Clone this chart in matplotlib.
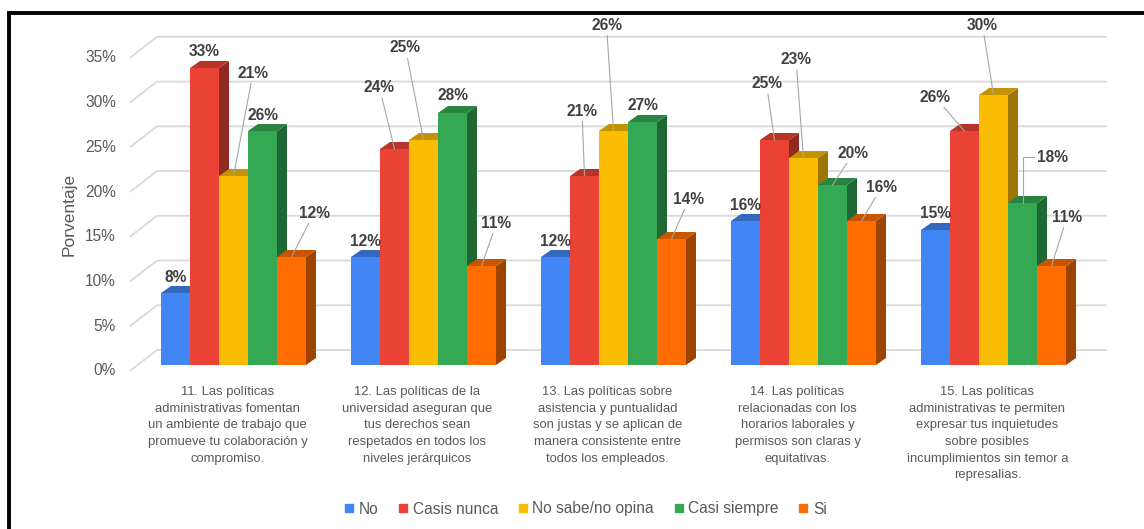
import matplotlib
matplotlib.use("Agg")
import matplotlib.pyplot as plt
from matplotlib.patches import Polygon
from matplotlib.lines import Line2D
import matplotlib.colors as mcolors

plt.rcParams['font.family'] = ['Liberation Sans', 'DejaVu Sans']

# --- data ---
categories = [
    "11. Las políticas\nadministrativas fomentan\nun ambiente de trabajo que\npromueve tu colaboración y\ncompromiso.",
    "12. Las políticas de la\nuniversidad aseguran que\ntus derechos sean\nrespetados en todos los\nniveles jerárquicos",
    "13. Las políticas sobre\nasistencia y puntualidad\nson justas y se aplican de\nmanera consistente entre\ntodos los empleados.",
    "14. Las políticas\nrelacionadas con los\nhorarios laborales y\npermisos son claras y\nequitativas.",
    "15. Las políticas\nadministrativas te permiten\nexpresar tus inquietudes\nsobre posibles\nincumplimientos sin temor a\nrepresalias.",
]
series_names = ["No", "Casis nunca", "No sabe/no opina", "Casi siempre", "Si"]
no = [8, 12, 12, 16, 15]
casis_nunca = [33, 24, 21, 25, 26]
no_sabe = [21, 25, 26, 23, 30]
casi_siempre = [26, 28, 27, 20, 18]
si = [12, 11, 14, 16, 11]
yticks = [0, 5, 10, 15, 20, 25, 30, 35]

series = [no, casis_nunca, no_sabe, casi_siempre, si]
colors = ["#4285F4", "#EA4335", "#FBBC04", "#34A853", "#FF6D01"]

# label offsets in pixels (dx, dy up) from the top of each bar, and leader style
label_offsets = [
    [(0, 16), (0, 16), (19.5, 103), (0, 16), (22.5, 44)],
    [(0, 16), (-15, 61), (-18, 92), (0, 17), (15, 43)],
    [(0, 16), (-2.5, 65), (-7, 106), (0, 16), (17.5, 40)],
    [(0, 16), (-8, 56), (-7.5, 98), (21, 32), (20, 34)],
    [(0, 16), (-29.5, 34), (-11, 70), (29.5, 46), (15.5, 49)],
]
leaders = [
    [None, None, 'line', None, 'line'],
    [None, 'line', 'line', None, 'line'],
    [None, 'line', 'line', None, 'line'],
    [None, 'line', 'line', 'line', 'line'],
    [None, 'line', 'line', 'elbow', 'line'],
]

W, H = 1144, 529
fig = plt.figure(figsize=(W / 100, H / 100), dpi=100)
ax = fig.add_axes([0, 0, 1, 1])
ax.set_axis_off()

# axis units: x in groups (190 px apart), y in percent (9 px per %)
px_per_x = 190.0
px_per_y = 9.0
x0_px = 233.5
base_px = 365.0
ax.set_xlim(-x0_px / px_per_x, (W - x0_px) / px_per_x)
ax.set_ylim(-(H - base_px) / px_per_y, base_px / px_per_y)

def px_x(p):
    return (p - x0_px) / px_per_x

def px_y(p):
    return (base_px - p) / px_per_y

bar_w = 29 / px_per_x
depth_x = 10 / px_per_x
depth_y = 7 / px_per_y

# back wall gridlines with the slanted floor edge on the left
grid_c = "#d9d9d9"
for v in yticks:
    yb = 1.67 + 0.994 * v
    yf = yb - 2.33
    ax.plot([px_x(130), px_x(157), px_x(1107)], [yf, yb, yb],
            color=grid_c, lw=1.3, zorder=1, solid_capstyle='butt')
    ax.text(px_x(116), yf, f"{v}%", ha='right', va='center',
            fontsize=11.2, color="#595959")

def shade(c, f):
    r, g, b = mcolors.to_rgb(c)
    return (r * f, g * f, b * f)

# 3D-looking bars: side and top faces, then the front face
z = 2.0
for k in range(len(categories)):
    for j, vals in enumerate(series):
        v = vals[k]
        xl = k + (j - 2) * bar_w - bar_w / 2
        xr = xl + bar_w
        side = Polygon([(xr, 0), (xr + depth_x, depth_y), (xr + depth_x, v + depth_y), (xr, v)],
                       closed=True, facecolor=shade(colors[j], 0.62), edgecolor='none', zorder=z)
        top = Polygon([(xl, v), (xr, v), (xr + depth_x, v + depth_y), (xl + depth_x, v + depth_y)],
                      closed=True, facecolor=shade(colors[j], 0.78), edgecolor='none', zorder=z + 0.001)
        ax.add_patch(side)
        ax.add_patch(top)
        ax.bar(k + (j - 2) * bar_w, v, width=bar_w, color=colors[j],
               edgecolor='none', zorder=z + 0.002)
        z += 0.01

# value labels
for k in range(len(categories)):
    for j, vals in enumerate(series):
        v = vals[k]
        dx, dy = label_offsets[k][j]
        kind = leaders[k][j]
        props = None
        if kind == 'line':
            props = dict(arrowstyle='-', color='#a6a6a6', lw=0.8, shrinkA=0, shrinkB=0)
        elif kind == 'elbow':
            props = dict(arrowstyle='-', color='#a6a6a6', lw=0.8, shrinkA=0, shrinkB=0,
                         connectionstyle='angle,angleA=0,angleB=90,rad=0')
        ax.annotate(f"{v}%", xy=(k + (j - 2) * bar_w, v), xytext=(dx, dy),
                    textcoords='offset pixels', ha='center', va='center',
                    fontsize=11.2, fontweight='bold', color='#404040',
                    arrowprops=props, zorder=10)

# category labels under each group
for k, cat in enumerate(categories):
    ax.text(k - 0.0316, px_y(386), cat, ha='center', va='top', fontsize=9.4,
            color='#595959', linespacing=1.52)

ax.text(px_x(69), px_y(214), "Porventaje", rotation=90, ha='center', va='center',
        fontsize=12.5, color='#595959')

handles = [Line2D([], [], marker='s', linestyle='', markersize=5.2, color=c) for c in colors]
fig.legend(handles, series_names, loc='center', bbox_to_anchor=(586 / W, 1 - 509 / H),
           ncol=5, frameon=False, fontsize=11.2, labelcolor='#595959',
           handlelength=0.5, handletextpad=0.35, columnspacing=1.35)

# outer frame (left and top edges)
fig.add_artist(Line2D([9 / W, 9 / W], [0, 1 - 13 / H], color='black', lw=2.8,
                      transform=fig.transFigure))
fig.add_artist(Line2D([9 / W, 1], [1 - 13 / H, 1 - 13 / H], color='black', lw=2.8,
                      transform=fig.transFigure, solid_capstyle='projecting'))

fig.savefig("out.png", dpi=100)
